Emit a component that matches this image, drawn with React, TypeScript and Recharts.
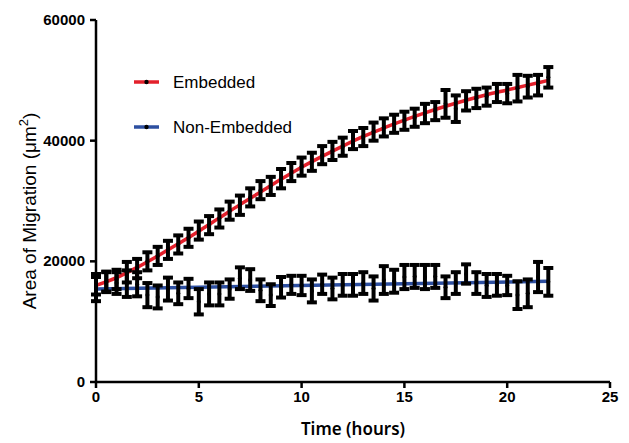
import React from "react";
import { ComposedChart, Line, Scatter, ErrorBar, XAxis, YAxis } from "recharts";

const hours = [0, 0.5, 1, 1.5, 2, 2.5, 3, 3.5, 4, 4.5, 5, 5.5, 6, 6.5, 7, 7.5, 8, 8.5, 9, 9.5, 10, 10.5, 11, 11.5, 12, 12.5, 13, 13.5, 14, 14.5, 15, 15.5, 16, 16.5, 17, 17.5, 18, 18.5, 19, 19.5, 20, 20.5, 21, 21.5, 22];

const embeddedMean = [16200, 16600, 17000, 18200, 18800, 20000, 20900, 21900, 22800, 23900, 25100, 26000, 27100, 28400, 29300, 30600, 31800, 32500, 33700, 34800, 35700, 36500, 37600, 38300, 39000, 40100, 40600, 41500, 42200, 42800, 43300, 43800, 44500, 44900, 46100, 45300, 46600, 47000, 47300, 47900, 47800, 48700, 48950, 49200, 50500];
const embeddedErr = [1700, 1600, 1600, 1700, 1600, 1500, 1500, 1500, 1500, 1500, 1500, 1500, 1500, 1500, 1600, 1500, 1500, 1500, 1600, 1500, 1500, 1500, 1500, 1500, 1500, 1500, 1500, 1500, 1500, 1500, 1500, 1500, 1600, 1500, 2300, 2200, 1600, 1600, 1500, 1500, 1600, 2200, 1800, 1700, 1700];

const nonEmbeddedMean = [15400, 16600, 16400, 16300, 16200, 14400, 14100, 15400, 14700, 15500, 13300, 14600, 14600, 15400, 17200, 16900, 15200, 14400, 15700, 16100, 16000, 15100, 16200, 15500, 16100, 16100, 16400, 15500, 16900, 16700, 17400, 17500, 17400, 17500, 15700, 16400, 17900, 16400, 16000, 16100, 16000, 14400, 14700, 17400, 16600];
const nonEmbeddedErr = [2000, 1700, 1800, 2200, 2000, 2000, 1900, 1900, 1800, 1600, 2100, 1900, 1900, 1600, 1800, 1800, 1800, 1800, 1700, 1500, 1600, 1900, 1600, 1800, 1800, 1800, 1800, 2000, 2300, 1900, 2000, 1900, 2000, 1900, 1800, 1800, 1600, 1800, 1900, 1800, 1600, 2300, 2300, 2500, 2300];

const embeddedFitX = [0, 1, 2, 3, 4, 5, 6, 7, 8, 9, 10, 11, 12, 13, 14, 15, 16, 17, 18, 19, 20, 21, 22];
const embeddedFitY = [16000, 17300, 19000, 20900, 22900, 25000, 27200, 29400, 31500, 33600, 35600, 37400, 39100, 40700, 42100, 43400, 44600, 45700, 46700, 47600, 48400, 49200, 50000];

const nonEmbeddedFitX = [0, 22];
const nonEmbeddedFitY = [15400, 16700];

const xTicks = [0, 5, 10, 15, 20, 25];
const yTicks = [0, 20000, 40000, 60000];

const legendItems = [
  { name: "Embedded", color: "#e3202b" },
  { name: "Non-Embedded", color: "#2d4fa0" },
];

const embeddedPts = hours.map((x, i) => ({ x, y: embeddedMean[i], err: embeddedErr[i] }));
const nonEmbeddedPts = hours.map((x, i) => ({ x, y: nonEmbeddedMean[i], err: nonEmbeddedErr[i] }));
const embeddedFit = embeddedFitX.map((x, i) => ({ x, y: embeddedFitY[i] }));
const nonEmbeddedFit = nonEmbeddedFitX.map((x, i) => ({ x, y: nonEmbeddedFitY[i] }));

const Dot = (props: any) => {
  const { cx, cy } = props;
  if (cx == null || cy == null) return null;
  return <circle cx={cx} cy={cy} r={2} fill="#000" />;
};

const TickLabel = (props: any) => {
  const { x, y, payload, textAnchor, orientation } = props;
  const dy = orientation === "bottom" ? 11 : 5;
  return (
    <text
      x={x}
      y={y + dy}
      textAnchor={textAnchor}
      fontFamily="Liberation Sans, Arial, sans-serif"
      fontSize={15}
      fontWeight={700}
      fill="#000"
    >
      {payload.value}
    </text>
  );
};

export default function App() {
  return (
    <div style={{ position: "absolute", left: 0, top: 0, width: 629, height: 443, background: "#fff" }}>
      <ComposedChart width={629} height={443} margin={{ top: 20, right: 19, left: 26, bottom: 31 }}>
        <XAxis
          dataKey="x"
          type="number"
          domain={[0, 25]}
          ticks={xTicks}
          allowDuplicatedCategory={false}
          stroke="#000"
          strokeWidth={2.5}
          tickSize={6}
          tickMargin={3}
          tick={<TickLabel />}
          height={30}
          tickLine={{ stroke: "#000", strokeWidth: 2.5 }}
        />
        <YAxis
          dataKey="y"
          type="number"
          domain={[0, 60000]}
          ticks={yTicks}
          stroke="#000"
          strokeWidth={2.5}
          tickSize={6}
          tickMargin={5}
          tick={<TickLabel />}
          width={70}
          tickLine={{ stroke: "#000", strokeWidth: 2.5 }}
        />
        <Line data={nonEmbeddedFit} dataKey="y" type="linear" stroke={legendItems[1].color} strokeWidth={3.5} dot={false} isAnimationActive={false} />
        <Line data={embeddedFit} dataKey="y" type="monotone" stroke={legendItems[0].color} strokeWidth={3.5} dot={false} isAnimationActive={false} />
        <Scatter data={nonEmbeddedPts} dataKey="y" shape={<Dot />} isAnimationActive={false}>
          <ErrorBar dataKey="err" direction="y" width={5} stroke="#000" strokeWidth={4} />
        </Scatter>
        <Scatter data={embeddedPts} dataKey="y" shape={<Dot />} isAnimationActive={false}>
          <ErrorBar dataKey="err" direction="y" width={5} stroke="#000" strokeWidth={4} />
        </Scatter>
      </ComposedChart>
      <svg width={629} height={443} style={{ position: "absolute", left: 0, top: 0, pointerEvents: "none" }}>
        <text
          transform="translate(36,211) rotate(-90)"
          textAnchor="middle"
          fontFamily="Liberation Sans, Arial, sans-serif"
          fontSize={19}
          fill="#000"
        >
          Area of Migration (μm<tspan dy={-8} fontSize={13}>2</tspan><tspan dy={8}>)</tspan>
        </text>
        <text x={353} y={435} textAnchor="middle" fontFamily="Noto Sans, sans-serif" fontSize={17} fontWeight={600} fill="#000">
          Time (hours)
        </text>
        {legendItems.map((it, i) => {
          const y = 82 + i * 45;
          return (
            <g key={it.name}>
              <line x1={134} x2={159} y1={y} y2={y} stroke={it.color} strokeWidth={3.5} />
              <circle cx={146.5} cy={y} r={2.2} fill="#000" />
              <text x={173} y={y + 6} fontFamily="Liberation Sans, Arial, sans-serif" fontSize={17} fill="#000">
                {it.name}
              </text>
            </g>
          );
        })}
      </svg>
    </div>
  );
}
